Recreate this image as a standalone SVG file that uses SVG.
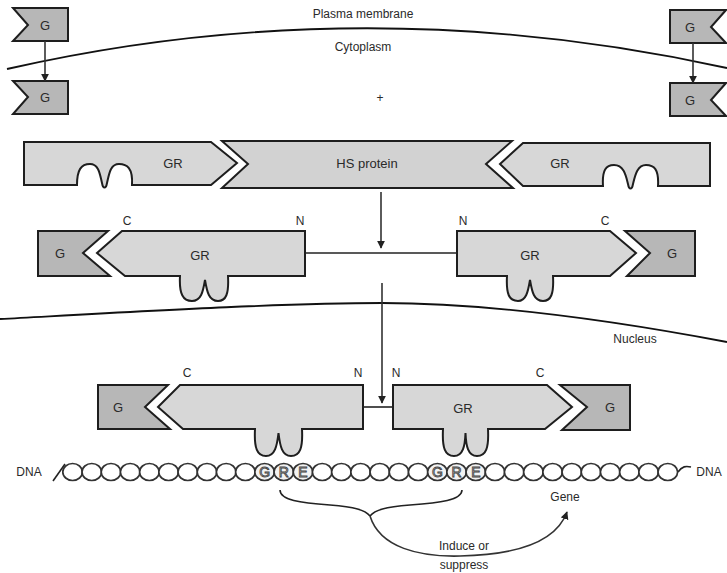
<svg xmlns="http://www.w3.org/2000/svg" width="727" height="573" viewBox="0 0 727 573">
  <defs>
    <marker id="arrowhead" viewBox="0 0 10 10" refX="9" refY="5" markerWidth="8" markerHeight="8" markerUnits="userSpaceOnUse" orient="auto">
      <path d="M0,0 L10,5 L0,10 Z" fill="#222"/>
    </marker>
    <style>
      .gbox { fill: #b7b7b7; stroke: #1e1e1e; stroke-width: 2; stroke-linejoin: miter; }
      .gr { fill: #d7d7d7; stroke: #1e1e1e; stroke-width: 2; stroke-linejoin: miter; }
      .hs { fill: #d2d2d2; stroke: #1e1e1e; stroke-width: 2; }
      .lbl { font-family: "Liberation Sans", Arial, sans-serif; font-size: 12px; fill: #2a2a2a; text-anchor: middle; }
      .big { font-family: "Liberation Sans", Arial, sans-serif; font-size: 13px; fill: #2a2a2a; text-anchor: middle; }
      .line { fill: none; stroke: #222; stroke-width: 1.6; }
      .arrow { fill: none; stroke: #333; stroke-width: 1.6; marker-end: url(#arrowhead); }
      .membrane { fill: none; stroke: #111; stroke-width: 1.8; }
      .dna { fill: #fff; stroke: #333; stroke-width: 1.7; }
      .gre { fill: #f2f2f2; stroke: #333; stroke-width: 1.7; }
      .greTxt { font-family: "Liberation Sans", Arial, sans-serif; font-size: 14px; fill: #f7f7f7; stroke: #444; stroke-width: 0.9; text-anchor: middle; }
    </style>
  </defs>
  <rect width="727" height="573" fill="#fff"/>

  <!-- membranes -->
  <g id="membranes">
    <path class="membrane" d="M7,69 Q363,-12 727,68"/>
    <path class="membrane" d="M0,319 C130,312 280,303 382,303 C480,303 600,318 727,342"/>
    <text class="lbl" x="363" y="18">Plasma membrane</text>
    <text class="lbl" x="363" y="51">Cytoplasm</text>
    <text class="lbl" x="380" y="102">+</text>
    <text class="lbl" x="635" y="343">Nucleus</text>
  </g>

  <!-- glucocorticoid outside and inside the cell -->
  <g id="g-out-left">
    <path class="gbox" d="M13,8 L68,8 L68,41 L13,41 L28,25 Z"/>
    <text class="big" x="45" y="30">G</text>
  </g>
  <g id="g-in-left">
    <path class="gbox" d="M13,81 L68,81 L68,114 L13,114 L28,97 Z"/>
    <text class="big" x="45" y="102">G</text>
  </g>
  <g id="g-out-right">
    <path class="gbox" d="M670,10 L726,10 L711,27 L726,43 L670,43 Z"/>
    <text class="big" x="690" y="32">G</text>
  </g>
  <g id="g-in-right">
    <path class="gbox" d="M670,83 L726,83 L711,100 L726,116 L670,116 Z"/>
    <text class="big" x="690" y="105">G</text>
  </g>

  <!-- receptor complexed with heat-shock protein -->
  <g id="gr-hs-left">
    <path class="gr" d="M24,142 L211,142 L237,163 L211,185 L132,185 C133,168 127,164 119,164 C110,164 109,175 107,183 C106,189 103,189 102,183 C100,175 99,164 90,164 C81,164 77,170 77,185 L24,185 Z"/>
    <text class="big" x="173" y="168">GR</text>
  </g>
  <g id="hs-protein">
    <path class="hs" d="M222,141 L512,141 L486,164 L513,188 L222,188 L248,164 Z"/>
    <text class="big" x="367" y="168">HS protein</text>
  </g>
  <g id="gr-hs-right">
    <path class="gr" d="M523,143 L710,143 L710,186 L658,186 C659,169 654,165 646,165 C637,165 635,176 633,184 C632,190 629,190 628,184 C626,176 624,165 614,165 C606,165 602,170 603,186 L523,186 L500,164 Z"/>
    <text class="big" x="560" y="168">GR</text>
  </g>

  <!-- hormone-bound receptor dimer in the cytoplasm -->
  <g id="g-cyto-left">
    <path class="gbox" d="M38,231 L108,231 L83,253 L110,276 L38,276 Z"/>
    <text class="big" x="60" y="258">G</text>
  </g>
  <g id="gr-cyto-left">
    <path class="gr" d="M122,231 L305,231 L305,276 L228,276 C229,294 226,301 218,301 C209,301 207,292 205,280 C203,292 201,301 192,301 C183,301 179,294 180,276 L125,276 L97,253 Z"/>
    <text class="big" x="200" y="260">GR</text>
    <text class="lbl" x="127" y="225">C</text>
    <text class="lbl" x="300" y="225">N</text>
  </g>
  <g id="gr-cyto-right">
    <path class="gr" d="M457,231 L610,231 L636,253 L610,276 L553,276 C554,294 551,301 543,301 C534,301 532,292 530,280 C528,292 526,301 518,301 C509,301 506,294 507,276 L457,276 Z"/>
    <text class="big" x="530" y="260">GR</text>
    <text class="lbl" x="463" y="225">N</text>
    <text class="lbl" x="605" y="225">C</text>
  </g>
  <g id="g-cyto-right">
    <path class="gbox" d="M625,231 L695,231 L695,276 L627,276 L650,253 Z"/>
    <text class="big" x="672" y="258">G</text>
  </g>

  <!-- receptor dimer in the nucleus -->
  <g id="g-nuc-left">
    <path class="gbox" d="M98,385 L168,385 L145,407 L170,429 L98,429 Z"/>
    <text class="big" x="118" y="412">G</text>
  </g>
  <g id="gr-nuc-left">
    <path class="gr" d="M180,385 L363,385 L363,429 L302,429 C303,448 300,456 291,456 C282,456 280,446 278.5,433 C277,446 275,456 266,456 C257,456 254,448 255,429 L183,429 L158,407 Z"/>
    <text class="lbl" x="187" y="377">C</text>
    <text class="lbl" x="358" y="377">N</text>
  </g>
  <g id="gr-nuc-right">
    <path class="gr" d="M393,385 L547,385 L572,407 L545,429 L488,429 C489,448 486,456 477,456 C468,456 466,446 465.5,433 C465,446 463,456 454,456 C445,456 442,448 443,429 L393,429 Z"/>
    <text class="big" x="463" y="413">GR</text>
    <text class="lbl" x="396" y="377">N</text>
    <text class="lbl" x="540" y="377">C</text>
  </g>
  <g id="g-nuc-right">
    <path class="gbox" d="M560,385 L630,385 L630,430 L562,430 L587,407 Z"/>
    <text class="big" x="610" y="412">G</text>
  </g>

  <!-- DNA strand with two glucocorticoid response elements -->
  <g id="dna">
    <text class="lbl" x="29" y="476">DNA</text>
    <path class="line" d="M53,481 L65,464"/>
    <path class="line" d="M678,472 C682,466 686,466 691,467"/>
    <text class="lbl" x="709" y="476">DNA</text>
    <g>
      <ellipse class="dna" cx="72.6" cy="472" rx="9.8" ry="8.5"/>
      <ellipse class="dna" cx="91.8" cy="472" rx="9.8" ry="8.5"/>
      <ellipse class="dna" cx="111" cy="472" rx="9.8" ry="8.5"/>
      <ellipse class="dna" cx="130.2" cy="472" rx="9.8" ry="8.5"/>
      <ellipse class="dna" cx="149.4" cy="472" rx="9.8" ry="8.5"/>
      <ellipse class="dna" cx="168.6" cy="472" rx="9.8" ry="8.5"/>
      <ellipse class="dna" cx="187.8" cy="472" rx="9.8" ry="8.5"/>
      <ellipse class="dna" cx="207" cy="472" rx="9.8" ry="8.5"/>
      <ellipse class="dna" cx="226.2" cy="472" rx="9.8" ry="8.5"/>
      <ellipse class="dna" cx="245.4" cy="472" rx="9.8" ry="8.5"/>
      <ellipse class="gre" cx="264.6" cy="472" rx="9.8" ry="8.5"/>
      <ellipse class="gre" cx="283.8" cy="472" rx="9.8" ry="8.5"/>
      <ellipse class="gre" cx="303" cy="472" rx="9.8" ry="8.5"/>
      <ellipse class="dna" cx="322.2" cy="472" rx="9.8" ry="8.5"/>
      <ellipse class="dna" cx="341.4" cy="472" rx="9.8" ry="8.5"/>
      <ellipse class="dna" cx="360.6" cy="472" rx="9.8" ry="8.5"/>
      <ellipse class="dna" cx="379.8" cy="472" rx="9.8" ry="8.5"/>
      <ellipse class="dna" cx="399" cy="472" rx="9.8" ry="8.5"/>
      <ellipse class="dna" cx="418.2" cy="472" rx="9.8" ry="8.5"/>
      <ellipse class="gre" cx="437.4" cy="472" rx="9.8" ry="8.5"/>
      <ellipse class="gre" cx="456.6" cy="472" rx="9.8" ry="8.5"/>
      <ellipse class="gre" cx="475.8" cy="472" rx="9.8" ry="8.5"/>
      <ellipse class="dna" cx="495" cy="472" rx="9.8" ry="8.5"/>
      <ellipse class="dna" cx="514.2" cy="472" rx="9.8" ry="8.5"/>
      <ellipse class="dna" cx="533.4" cy="472" rx="9.8" ry="8.5"/>
      <ellipse class="dna" cx="552.6" cy="472" rx="9.8" ry="8.5"/>
      <ellipse class="dna" cx="571.8" cy="472" rx="9.8" ry="8.5"/>
      <ellipse class="dna" cx="591" cy="472" rx="9.8" ry="8.5"/>
      <ellipse class="dna" cx="610.2" cy="472" rx="9.8" ry="8.5"/>
      <ellipse class="dna" cx="629.4" cy="472" rx="9.8" ry="8.5"/>
      <ellipse class="dna" cx="648.6" cy="472" rx="9.8" ry="8.5"/>
      <ellipse class="dna" cx="667.8" cy="472" rx="9.8" ry="8.5"/>
    </g>
    <text class="greTxt" x="264.6" y="477">G</text>
    <text class="greTxt" x="283.8" y="477">R</text>
    <text class="greTxt" x="303" y="477">E</text>
    <text class="greTxt" x="437.4" y="477">G</text>
    <text class="greTxt" x="456.6" y="477">R</text>
    <text class="greTxt" x="475.8" y="477">E</text>
    <text class="lbl" x="565" y="501">Gene</text>
  </g>

  <!-- connectors -->
  <g id="connectors">
    <path class="arrow" d="M45,41 L45,81"/>
    <path class="arrow" d="M693,43 L693,83"/>
    <path class="arrow" d="M381,192 L381,248"/>
    <path class="line" d="M305,253 L457,253"/>
    <path class="arrow" d="M382,283 L382,403"/>
    <path class="line" d="M363,407 L393,407"/>
    <path class="line" d="M280,490 C280,500 300,503 330,505 C355,507 365,510 370,516"/>
    <path class="line" d="M462,490 C462,500 440,503 410,505 C385,507 375,510 370,516"/>
    <path class="arrow" d="M370,516 C380,548 420,557 460,556 C510,555 555,545 567,512"/>
    <text class="lbl" x="464" y="550">Induce or</text>
    <text class="lbl" x="464" y="569">suppress</text>
  </g>
</svg>
